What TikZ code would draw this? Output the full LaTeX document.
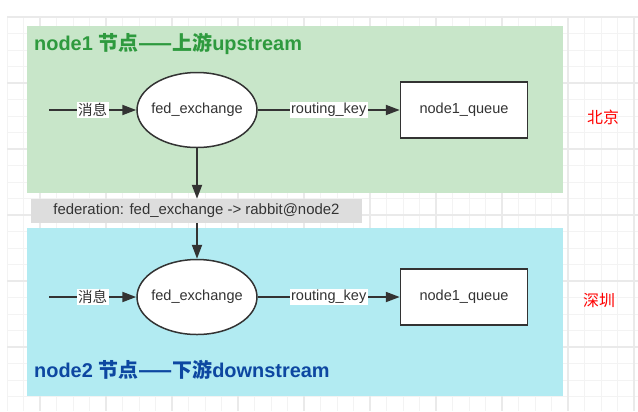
\documentclass[tikz,border=0pt]{standalone}
\usepackage{fontspec}
\setmainfont{Liberation Sans}
\newfontfamily\cjk{Noto Sans CJK SC}
\usetikzlibrary{arrows.meta,shapes.geometric}
\definecolor{upgreen}{HTML}{C8E6C9}
\definecolor{downcyan}{HTML}{B2EBF2}
\definecolor{titlegreen}{HTML}{2E9A3E}
\definecolor{titleblue}{HTML}{0D47A1}
\definecolor{inkgray}{HTML}{333333}
\definecolor{gridgray}{HTML}{F3F3F3}
\definecolor{gridmajor}{HTML}{EAEAEA}
\definecolor{fedgray}{HTML}{DDDDDD}
\begin{document}
\begin{tikzpicture}[x=1bp,y=-1bp,
  exch/.style={ellipse,draw=inkgray,line width=1.5bp,fill=white,minimum width=120bp,minimum height=75bp,inner xsep=-10bp,inner ysep=0pt,text=inkgray,font=\fontsize{14.6}{16}\selectfont},
  queuebox/.style={rectangle,draw=inkgray,line width=1.5bp,fill=white,minimum width=127bp,minimum height=56bp,inner sep=0pt,text=inkgray,font=\fontsize{14.6}{16}\selectfont},
  edgelabel/.style={fill=white,inner sep=1.5bp,text=inkgray,font=\fontsize{14.6}{16}\selectfont},
  fedlabel/.style={fill=fedgray,minimum width=331bp,minimum height=24bp,inner sep=0pt,text=inkgray,font=\fontsize{15}{16}\selectfont},
  flow/.style={draw=inkgray,line width=2bp,-{Triangle[length=14bp,width=10bp]}},
  title/.style={anchor=west,inner sep=0pt,font=\bfseries\fontsize{20}{22}\selectfont},
  city/.style={text=red,font=\cjk\fontsize{16}{18}\selectfont}]
\useasboundingbox (0,0) rectangle (638,411);

% background grid
\foreach \k in {0,...,38}
  \draw[gridgray,line width=1bp] (7+16.5*\k,17) -- (7+16.5*\k,411);
\foreach \k in {0,...,23}
  \draw[gridgray,line width=1bp] (7,17+16.5*\k) -- (638,17+16.5*\k);
\foreach \k in {0,...,9}
  \draw[gridmajor,line width=1.2bp] (40+66*\k,17) -- (40+66*\k,411);
\foreach \k in {0,...,5}
  \draw[gridmajor,line width=1.2bp] (7,17+66*\k) -- (638,17+66*\k);

% the two sites
\fill[upgreen] (27,26) rectangle (563,193);
\fill[downcyan] (27,228) rectangle (563,396);

\node[title,text=titlegreen] (uptitle) at (34,44) {node1 {\cjk\bfseries 节点——上游}upstream};
\node[title,text=titleblue] (downtitle) at (34,370) {node2 {\cjk\bfseries 节点——下游}downstream};

% upstream
\coordinate (upin) at (49,110);
\node[exch] (upex) at (197,110) {fed\_exchange};
\node[queuebox] (upq) at (464,110) {node1\_queue};
\draw[flow] (upin) -- node[edgelabel] (upmsg) {\cjk 消息} (upex);
\draw[flow] (upex) -- node[edgelabel] (upkey) {routing\_key} (upq);

% downstream
\coordinate (downin) at (49,297);
\node[exch] (downex) at (197,297) {fed\_exchange};
\node[queuebox] (downq) at (464,297) {node1\_queue};
\draw[flow] (downin) -- node[edgelabel] (downmsg) {\cjk 消息} (downex);
\draw[flow] (downex) -- node[edgelabel] (downkey) {routing\_key} (downq);

% federation link
\node[fedlabel] (fed) at (196.5,211) {federation: fed\_exchange -> rabbit@node2};
\draw[flow] (upex) -- (upex |- fed.north);
\draw[flow] (fed.south -| downex) -- (downex);

\node[city] (bj) at (603,117) {北京};
\node[city] (sz) at (599,300) {深圳};
\end{tikzpicture}
\end{document}
